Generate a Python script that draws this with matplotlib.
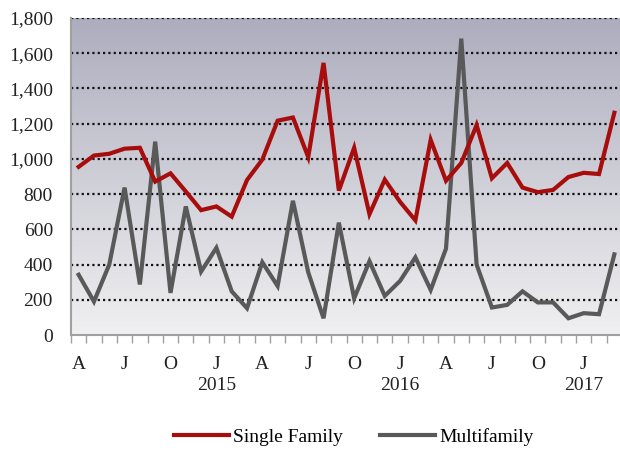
import numpy as np
import matplotlib
matplotlib.use("Agg")
import matplotlib.pyplot as plt
import matplotlib.transforms as mtransforms

# monthly values, Apr 2014 - Mar 2017
single_family = [955, 1019, 1029, 1058, 1063, 871, 918, 815, 709, 730, 672, 880,
                 996, 1217, 1235, 1010, 1545, 820, 1063, 686, 882, 756, 651, 1108,
                 876, 977, 1192, 890, 977, 837, 811, 824, 897, 921, 914, 1262]
multifamily = [342, 190, 400, 837, 287, 1098, 239, 730, 360, 495, 248, 152,
               413, 278, 762, 356, 95, 638, 208, 419, 222, 307, 441, 256,
               490, 1683, 400, 156, 171, 248, 185, 185, 95, 124, 118, 458]
month_labels = ["A", "J", "O", "J"] * 3
month_pos = [0, 3, 6, 9, 12, 15, 18, 21, 24, 27, 30, 33]
year_labels = ["2015", "2016", "2017"]
year_pos = [9, 21, 33]

plt.rcParams['font.family'] = ['Liberation Serif', 'DejaVu Serif']

fig = plt.figure(figsize=(6.2, 4.51), dpi=100)
ax = fig.add_axes([71/620, (451-335)/451, 551/620, 317/451])

x = np.arange(len(single_family))

# background gradient
grad = np.linspace(0, 1, 256).reshape(-1, 1)
top = np.array([0.68, 0.678, 0.745])
bot = np.array([0.94, 0.94, 0.945])
img = top + (bot - top) * grad
ax.imshow(img[:, None, :].repeat(2, axis=1), extent=[0, 1, 0, 1], transform=ax.transAxes,
          aspect='auto', zorder=0)

for v in range(200, 1801, 200):
    ax.axhline(v, color='#111111', lw=1.6, ls=(0, (1, 1.4)), zorder=1)

ax.plot(x, single_family, color='#a80d0d', lw=3, solid_joinstyle='miter', zorder=3, label='Single Family')
ax.plot(x, multifamily, color='#595959', lw=3, solid_joinstyle='miter', zorder=2, label='Multifamily')

ax.set_xlim(-0.5, len(x) - 0.5)
ax.set_ylim(0, 1800)
ax.set_yticks(range(0, 1801, 200))
ax.set_yticklabels([f"{v:,}" for v in range(0, 1801, 200)])
ax.tick_params(axis='y', length=0, pad=13, labelsize=14, labelcolor='#222222')

ax.set_xticks(np.arange(-0.5, len(x), 1))
ax.set_xticklabels([])
ax.tick_params(axis='x', which='major', length=6, width=1, color='#a0a0a0', direction='out')
ax.set_xticks(month_pos, minor=True)
ax.set_xticklabels(month_labels, minor=True)
ax.tick_params(axis='x', which='minor', length=0, pad=15, labelsize=14, labelcolor='#222222')

trans = mtransforms.blended_transform_factory(ax.transData, ax.transAxes)
for p, y in zip(year_pos, year_labels):
    ax.text(p, -0.158, y, transform=trans, ha='center', va='center', fontsize=14, color='#222222')

for s in ['top', 'right']:
    ax.spines[s].set_visible(False)
for s in ['left', 'bottom']:
    ax.spines[s].set_color('#a0a0a0')
    ax.spines[s].set_linewidth(1.5)

fig.legend(loc='center', bbox_to_anchor=(354/620, 1 - 437/451), ncol=2, frameon=False,
           fontsize=14, handlelength=2.8, handletextpad=0.25, columnspacing=1.9)

fig.savefig("out.png", dpi=100)
